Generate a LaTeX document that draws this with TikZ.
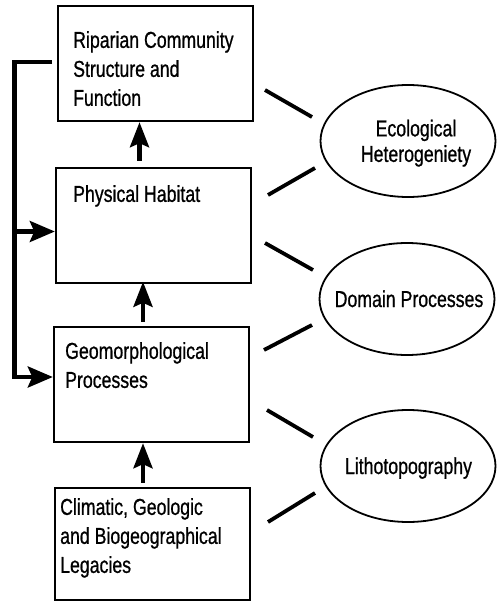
\documentclass[tikz,border=0pt]{standalone}
\usepackage{fontspec}
\setmainfont[FakeStretch=0.77,FakeBold=0.8]{Liberation Sans}
\usetikzlibrary{arrows.meta,shapes.geometric,calc}
\begin{document}
\begin{tikzpicture}[x=1pt,y=-1pt,
  box/.style={draw,line width=2.4pt,minimum width=195pt,minimum height=115pt,inner sep=0pt},
  lbl/.style={anchor=north west,align=left,inner sep=0pt,font=\fontsize{23}{29}\selectfont},
  oval/.style={draw,ellipse,line width=1.8pt,minimum width=175pt,minimum height=112pt,inner sep=0pt},
  olbl/.style={align=center,inner sep=0pt,font=\fontsize{23}{25.5}\selectfont},
  arr/.style={line width=4.2pt,-{Stealth[length=25pt,width=19pt,inset=4pt]}},
  harr/.style={line width=4.2pt,-{Stealth[length=25pt,width=21pt,inset=4.5pt]}},
  link/.style={line width=3.8pt},
  fb/.style={line width=4.2pt}]
\useasboundingbox (0,0) rectangle (496,602);
% boxes
\node[box] (b1) at (155.5,63.5) {};
\node[box] (b2) at (153.5,225.5) {};
\node[box] (b3) at (151.5,384.5) {};
\node[box,minimum height=112pt] (b4) at (152.5,544) {};
\node[lbl] (t1) at (73,31) {Riparian Community\\Structure and\\Function};
\node[lbl] (t2) at (73,185) {Physical Habitat};
\node[lbl] (t3) at (65,342) {Geomorphological\\Processes};
\node[lbl] (t4) at (60,498) {Climatic, Geologic\\and Biogeographical\\Legacies};
% ellipses
\node[oval] (e1) at (408,141) {};
\node[oval] (e2) at (407,299) {};
\node[oval] (e3) at (408,466) {};
\node[olbl,anchor=north] (e1t) at (416,119.5) {Ecological\\Heterogeniety};
\node[olbl,anchor=base] (e2t) at (409,307) {Domain Processes};
\node[olbl,anchor=base] (e3t) at (408.5,474) {Lithotopography};
% vertical arrows
\draw[arr,shorten <=6pt] ($(b2.north)+(-14,0)$) -- ($(b1.south)+(-16,0)$);
\draw[arr,shorten <=4pt] ($(b3.north)+(-8.5,0)$) -- ($(b2.north)+(-10.5,115)$);
\draw[arr,shorten <=4pt] ($(b4.north)+(-9.5,0)$) -- ($(b3.south)+(-8.5,0)$);
% feedback bracket
\coordinate (fbs) at (52,62);
\coordinate (fbc) at (14.5,62);
\coordinate (fbb) at (14.5,377);
\coordinate (fbm) at (14.5,231.5);
\draw[fb,line join=miter] (fbs) -- (fbc) -- (fbb) -- ($(b3.west)+(-15,-7.5)$);
\draw[harr] (fbb) -- ($(b3.west)+(0,-7.5)$);
\draw[harr] (fbm) -- ($(b2.west)+(0,6)$);
% links to ellipses
\coordinate (l1a) at (265,90);  \coordinate (l1b) at (312,117);
\coordinate (l2a) at (268,195); \coordinate (l2b) at (315,168);
\coordinate (l3a) at (265,243); \coordinate (l3b) at (313,270);
\coordinate (l4a) at (264,350); \coordinate (l4b) at (312,325);
\coordinate (l5a) at (267,410); \coordinate (l5b) at (313,437);
\coordinate (l6a) at (268,522); \coordinate (l6b) at (315,493);
\draw[link] (l1a) -- (l1b);
\draw[link] (l2a) -- (l2b);
\draw[link] (l3a) -- (l3b);
\draw[link] (l4a) -- (l4b);
\draw[link] (l5a) -- (l5b);
\draw[link] (l6a) -- (l6b);
\end{tikzpicture}
\end{document}
